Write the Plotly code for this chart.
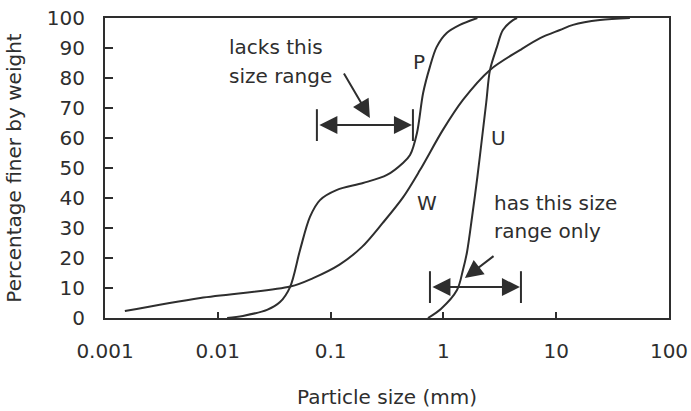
import numpy as np
import plotly.graph_objects as go

# Grading curves: particle size (mm) vs. percentage finer by weight
W_size = [0.0015, 0.007, 0.044, 0.07, 0.12, 0.19, 0.29, 0.44, 0.62, 0.99, 1.49, 2.59, 4.77, 7.2, 10.8, 14.1, 24.4, 45]
W_pct = [2.3, 6.7, 10.5, 13.3, 17.8, 23.7, 31.7, 40.3, 49.3, 62.7, 72.7, 82.7, 89.3, 93.3, 96, 97.7, 99.3, 100]

P_size = [0.0121, 0.0167, 0.0273, 0.0356, 0.0437, 0.0536, 0.0656, 0.0805, 0.114, 0.194, 0.316, 0.438,
          0.506, 0.583, 0.661, 0.759, 0.87, 1.07, 1.4, 2.0]
P_pct = [0, 0.7, 2.7, 5.3, 10.3, 22.7, 33.7, 39.3, 42.7, 45, 47.7, 51.7,
         54.3, 61.7, 75, 83.7, 90.3, 95, 97.7, 100]

U_size = [0.73, 0.95, 1.32, 1.49, 1.62, 1.8, 2.0, 2.2, 2.4, 2.59, 2.98, 3.37, 4.14, 4.5]
U_pct = [0, 3, 9.3, 16, 22, 34, 47, 60, 72, 82.7, 90.3, 96, 99.3, 100]

# Size ranges marked with bracketed double arrows
lacks_range = [0.0756, 0.537]
lacks_level = 64.3
has_range = [0.76, 4.87]
has_level = 10.3

# Pointer arrows from the notes: (tail size, tail pct, head size, head pct)
lacks_pointer = [0.129, 82, 0.223, 66.7]
has_pointer = [2.87, 21, 1.55, 13.3]

x_ticks = [0.001, 0.01, 0.1, 1, 10, 100]
x_tick_text = ["0.001", "0.01", "0.1", "1", "10", "100"]
y_ticks = [0, 10, 20, 30, 40, 50, 60, 70, 80, 90, 100]

INK = "#2e2e2e"
FONT = "DejaVu Sans, Liberation Sans, Arial, sans-serif"
FS = 20

fig = go.Figure()

for xs, ys in [(W_size, W_pct), (P_size, P_pct), (U_size, U_pct)]:
    fig.add_trace(go.Scatter(x=xs, y=ys, mode="lines",
                             line=dict(color=INK, width=2, shape="spline", smoothing=0.9),
                             hoverinfo="skip", showlegend=False, cliponaxis=False))

# End bars of the two brackets
for rng, lvl in [(lacks_range, lacks_level), (has_range, has_level)]:
    for xv in rng:
        fig.add_trace(go.Scatter(x=[xv, xv], y=[lvl - 5.3, lvl + 5.3], mode="lines",
                                 line=dict(color=INK, width=2), hoverinfo="skip",
                                 showlegend=False))

annotations = []
# Double-headed arrows spanning each size range
for rng, lvl in [(lacks_range, lacks_level), (has_range, has_level)]:
    annotations.append(dict(x=np.log10(rng[1]), y=lvl, ax=np.log10(rng[0]), ay=lvl,
                            xref="x", yref="y", axref="x", ayref="y", text="",
                            showarrow=True, arrowhead=2, arrowside="end+start",
                            arrowsize=1.8, arrowwidth=2, arrowcolor=INK,
                            standoff=1, startstandoff=1))
# Pointer arrows from the notes
for tx, ty, hx, hy in [lacks_pointer, has_pointer]:
    annotations.append(dict(x=np.log10(hx), y=hy, ax=np.log10(tx), ay=ty,
                            xref="x", yref="y", axref="x", ayref="y", text="",
                            showarrow=True, arrowhead=2, arrowsize=1.8, arrowwidth=2,
                            arrowcolor=INK))


def lab(text, xv, yv, anchor="center"):
    annotations.append(dict(x=np.log10(xv), y=yv, xref="x", yref="y", text=text,
                            showarrow=False, xanchor=anchor, yanchor="middle",
                            font=dict(family=FONT, size=FS, color=INK)))


lab("lacks this", 0.0121, 90.3, "left")
lab("size range", 0.0121, 80.7, "left")
lab("P", 0.608, 85.3)
lab("U", 3.11, 60)
lab("W", 0.716, 38.3)
lab("has this size", 2.70, 38.3, "left")
lab("range only", 2.70, 29, "left")

fig.update_layout(
    width=691, height=411,
    margin=dict(l=105, r=22, t=18, b=93),
    paper_bgcolor="white", plot_bgcolor="white",
    font=dict(family=FONT, size=FS, color=INK),
    annotations=annotations,
    xaxis=dict(type="log", range=[-3, 2], tickvals=x_ticks, ticktext=x_tick_text,
               ticks="inside", ticklen=6, tickwidth=1.5, tickcolor=INK,
               showline=True, linecolor=INK, linewidth=2, mirror=True,
               showgrid=False, zeroline=False, ticklabelstandoff=14, automargin=False,
               title=dict(text="Particle size (mm)", standoff=28,
                          font=dict(family=FONT, size=FS, color=INK))),
    yaxis=dict(range=[0, 100], tickvals=y_ticks,
               ticks="inside", ticklen=8, tickwidth=1.5, tickcolor=INK,
               showline=True, linecolor=INK, linewidth=2, mirror=True,
               showgrid=False, zeroline=False, ticklabelstandoff=14, automargin=False,
               title=dict(text="Percentage finer by weight", standoff=20,
                          font=dict(family=FONT, size=FS, color=INK))),
)

fig.write_html("out.html")
